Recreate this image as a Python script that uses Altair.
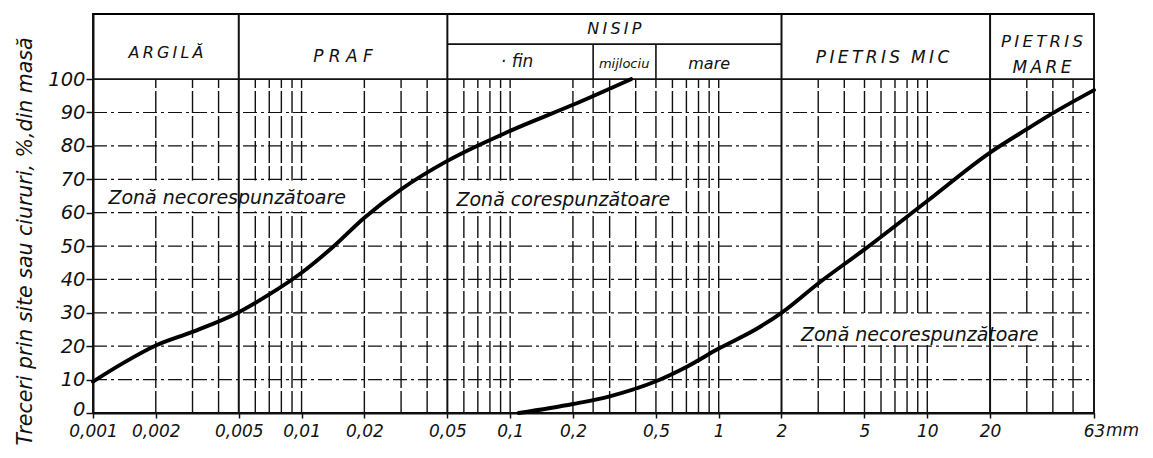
import altair as alt
import pandas as pd

# ---- data ----
left_mm = [0.001, 0.0014, 0.002, 0.003, 0.005, 0.007, 0.01, 0.014, 0.02,
           0.03, 0.05, 0.1, 0.2, 0.38]
left_pct = [9.4, 15, 20.2, 24.3, 30.2, 35.5, 42, 49.5, 58.5,
            67, 75.5, 84.5, 92.3, 100]

right_mm = [0.11, 0.2, 0.3, 0.5, 0.7, 1, 1.5, 2, 3, 5, 10, 20, 30, 40, 63]
right_pct = [0, 2.7, 5, 9.5, 13.8, 19.3, 25, 30, 38.8, 49, 63.5, 78, 85, 89.8, 96.7]

x_ticks = [0.001, 0.002, 0.005, 0.01, 0.02, 0.05, 0.1, 0.2, 0.5, 1, 2, 5, 10, 20, 63]
y_ticks = [0, 10, 20, 30, 40, 50, 60, 70, 80, 90, 100]

grid_mm = [0.002, 0.003, 0.004, 0.006, 0.007, 0.008, 0.009, 0.01, 0.02, 0.03, 0.04,
           0.06, 0.07, 0.08, 0.09, 0.1, 0.2, 0.25, 0.3, 0.4, 0.5, 0.6, 0.7, 0.8, 0.9, 1,
           3, 4, 5, 6, 7, 8, 9, 10, 30, 40, 50]
grid_pct = [10, 20, 30, 40, 50, 60, 70, 80, 90]
section_mm = [0.005, 0.05, 2, 20]
sub_mm = [0.25, 0.5]

T = "\u2009"    # thin space used as letter spacing
NB = "\u00a0"   # non-breaking space (not collapsed)
header_labels = [T.join("ARGILĂ"), NB.join("PRAF"), T.join("NISIP"), "·" + NB + "fin",
                 "mijlociu", "mare",
                 T.join("PIETRIS") + NB + NB + T.join("MIC"), T.join("PIETRIS"), T.join("MARE")]
header_x = [0.00224, 0.0158, 0.316, 0.108, 0.352, 0.9, 6.1, 35.5, 35.5]
header_y = [107.8, 106.6, 115.0, 105.0, 104.6, 104.6, 106.3, 111.2, 103.2]
header_size = [16, 17, 16, 17, 13, 16, 17, 16.5, 17]

zone_labels = ["Zonă necorespunzătoare", "Zonă corespunzătoare", "Zonă necorespunzătoare"]
zone_x = [0.0044, 0.18, 9.2]
zone_y = [64.5, 63.8, 23.5]
box_x0 = [0.00105, 0.0505, 2.05]
box_x1 = [0.0198, 0.62, 37]
box_y0 = [60.4, 60.4, 20.4]
box_y1 = [69.6, 69.6, 29.6]

FONT = "DejaVu Sans"
INK = "#111111"
XS = alt.Scale(type="log", domain=[0.001, 63], nice=False)
YS = alt.Scale(domain=[0, 119.5], nice=False, zero=False)

XA = alt.Axis(
    values=x_ticks, title=None, grid=False,
    labelExpr="datum.value == 63 ? '63' : replace(toString(datum.value), '.', ',')",
    labelFont=FONT, labelFontStyle="italic", labelFontSize=17, labelColor=INK,
    labelPadding=5, labelOverlap=False, labelFlush=False, labelBound=False,
    tickSize=5, tickColor=INK, tickWidth=1.5, domainColor=INK, domainWidth=2.2)
YA = alt.Axis(
    values=y_ticks, grid=False,
    title="Treceri prin site sau ciururi, %,din masă",
    titleFont=FONT, titleFontStyle="italic", titleFontWeight="normal", titleFontSize=20.5,
    titleColor=INK, titleAngle=270, titleX=-68, titleY=227, titleAlign="center",
    titleBaseline="middle",
    labelFont=FONT, labelFontStyle="italic", labelFontSize=19.5, labelColor=INK,
    labelPadding=1, labelOverlap=False, labelFlush=False, labelBaseline="middle",
    labelOffset={"condition": {"test": "datum.value == 0", "value": -4}, "value": 0},
    tickSize=7, tickColor=INK, tickWidth=1.5, domainColor=INK, domainWidth=2)

curve_df = pd.concat([
    pd.DataFrame({"mm": left_mm, "pct": left_pct, "series": "stanga"}),
    pd.DataFrame({"mm": right_mm, "pct": right_pct, "series": "dreapta"}),
])

vgrid = pd.DataFrame({"mm": grid_mm, "y0": 0, "y1": 100})
sect = pd.DataFrame({"mm": section_mm, "y0": 0, "y1": 119.5})
subs = pd.DataFrame({"mm": sub_mm, "y0": 100, "y1": 110.5})
hgrid = pd.DataFrame({"pct": grid_pct, "x0": 0.001, "x1": 63})
hsolid = pd.DataFrame({"pct": [100, 110.5], "x0": [0.001, 0.05], "x1": [63, 2]})
boxes = pd.DataFrame({"x0": box_x0, "x1": box_x1, "y0": box_y0, "y1": box_y1})
heads = pd.DataFrame({"x": header_x, "y": header_y, "label": header_labels, "fs": header_size})
zones = pd.DataFrame({"x": zone_x, "y": zone_y, "label": zone_labels})
mm_df = pd.DataFrame({"x": [63], "y": [0], "label": ["mm"]})


def X(f):
    return alt.X(f, scale=XS, axis=XA, title=None)


def Y(f):
    return alt.Y(f, scale=YS, axis=YA)


vg = alt.Chart(vgrid).mark_rule(color=INK, strokeWidth=1.4, strokeDash=[22, 3]).encode(
    x=X("mm:Q"), y=Y("y0:Q"), y2="y1:Q")
hg = alt.Chart(hgrid).mark_rule(color=INK, strokeWidth=1.2, strokeDash=[14, 4, 3, 4]).encode(
    x=X("x0:Q"), x2="x1:Q", y=Y("pct:Q"))
bx = alt.Chart(boxes).mark_rect(color="white").encode(
    x=X("x0:Q"), x2="x1:Q", y=Y("y0:Q"), y2="y1:Q")
sc = alt.Chart(sect).mark_rule(color=INK, strokeWidth=2).encode(
    x=X("mm:Q"), y=Y("y0:Q"), y2="y1:Q")
sb = alt.Chart(subs).mark_rule(color=INK, strokeWidth=1.6).encode(
    x=X("mm:Q"), y=Y("y0:Q"), y2="y1:Q")
hs = alt.Chart(hsolid).mark_rule(color=INK, strokeWidth=1.8).encode(
    x=X("x0:Q"), x2="x1:Q", y=Y("pct:Q"))

curves = alt.Chart(curve_df).mark_line(
    interpolate="monotone", strokeWidth=3.9, color="black", strokeCap="round").encode(
    x=X("mm:Q"), y=Y("pct:Q"), detail="series:N")

ht = alt.Chart(heads).mark_text(font=FONT, fontStyle="italic", color=INK, baseline="middle").encode(
    x=X("x:Q"), y=Y("y:Q"), text="label:N", size=alt.Size("fs:Q", scale=None, legend=None))
zt = alt.Chart(zones).mark_text(font=FONT, fontStyle="italic", color=INK, baseline="middle",
                                fontSize=19).encode(
    x=X("x:Q"), y=Y("y:Q"), text="label:N")
mt = alt.Chart(mm_df).mark_text(font=FONT, fontStyle="italic", color=INK, baseline="top",
                                align="left", fontSize=17, dx=12, dy=10).encode(
    x=X("x:Q"), y=Y("y:Q"), text="label:N")

chart = alt.layer(vg, hg, bx, sc, sb, hs, curves, ht, zt, mt).properties(
    width=1001, height=399,
    autosize=alt.AutoSizeParams(type="none"),
    padding={"left": 85, "top": 6, "right": 50, "bottom": 42},
    background="white",
).configure_view(stroke="black", strokeWidth=1.8)

chart.save("out.html", embed_options={"renderer": "svg", "actions": False})
